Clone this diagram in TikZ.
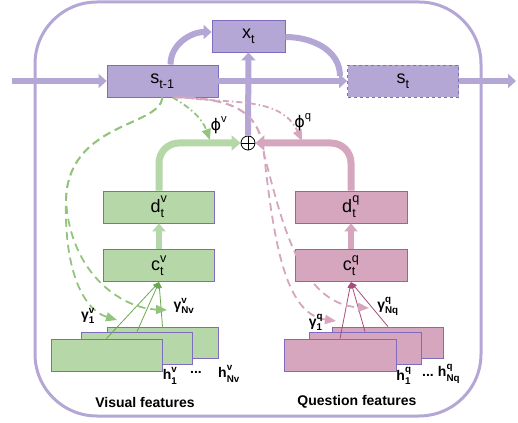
\documentclass[tikz,border=0pt]{standalone}
\usepackage{amsmath}
\usepackage{fontspec}
\setmainfont{Liberation Sans}
\newfontfamily\phifont{DejaVu Sans}
\usepackage{tikz}
\usetikzlibrary{arrows.meta, positioning, calc}
\definecolor{lavfill}{HTML}{B4A7D6}
\definecolor{boxline}{HTML}{7F6BBF}
\definecolor{greenfill}{HTML}{B6D7A8}
\definecolor{greendash}{HTML}{93C47D}
\definecolor{greenthin}{HTML}{6AA84F}
\definecolor{pinkfill}{HTML}{D5A6BD}
\definecolor{pinkthin}{HTML}{A64D79}
\newcommand{\lbl}[3]{$\text{#1}_{\text{\raisebox{-1pt}{#2}}}^{\text{\raisebox{1pt}{#3}}}$}

\begin{document}
\begin{tikzpicture}[x=1pt, y=1pt,
    box/.style={draw=boxline, line width=0.8pt, minimum width=111pt, minimum height=32pt, inner sep=0pt, font=\fontsize{18}{20}\selectfont},
    lavbox/.style={box, fill=lavfill},
    greenbox/.style={box, fill=greenfill},
    pinkbox/.style={box, fill=pinkfill},
    flabel/.style={font=\bfseries\fontsize{14}{16}\selectfont, inner sep=1pt},
    thickarrow/.style={-{Triangle[length=8pt, width=14pt]}, line width=6pt, lavfill},
    garrow/.style={-{Triangle[length=9pt, width=15pt]}, line width=7pt, greenfill},
    parrow/.style={-{Triangle[length=9pt, width=15pt]}, line width=7pt, pinkfill},
    gdashed/.style={-{Triangle[length=11pt, width=9pt]}, line width=1.8pt, greendash, dash pattern=on 8pt off 5pt},
    pdashed/.style={-{Triangle[length=11pt, width=9pt]}, line width=1.8pt, pinkfill, dash pattern=on 8pt off 5pt},
    gdashdot/.style={gdashed, dash pattern=on 6pt off 3pt on 1.5pt off 3pt},
    pdashdot/.style={pdashed, dash pattern=on 6pt off 3pt on 1.5pt off 3pt},
    gthin/.style={-{Triangle[length=6pt, width=5pt]}, line width=0.8pt, greenthin},
    pthin/.style={-{Triangle[length=6pt, width=5pt]}, line width=0.8pt, pinkthin},
    plus/.style={circle, draw, fill=white, line width=0.8pt, minimum size=14pt, inner sep=0pt,
        path picture={\draw[line width=0.8pt] (path picture bounding box.north) -- (path picture bounding box.south)
            (path picture bounding box.west) -- (path picture bounding box.east);}}
]
\useasboundingbox (0,0) rectangle (518,422);

% Frame
\draw[lavfill, line width=3pt, rounded corners=62pt] (35,6) rectangle (481,420);

% Recurrent states
\node[lavbox] (sprev) at (162.5,341) {\lbl{s}{t-1}{}};
\node[lavbox, minimum width=73pt] (xt) at (248.5,386) {\lbl{x}{t}{}};
\node[lavbox, dashed] (snext) at (403,341) {\lbl{s}{t}{}};
\coordinate (in) at (12,341);
\coordinate (out) at (516,341);
\coordinate (merge) at (340,346);

\draw[thickarrow] (in) -- (sprev.west);
\draw[thickarrow] (sprev.east) -- (snext.west);
\draw[thickarrow] (snext.east) -- (out);
\draw[thickarrow] ([xshift=8pt]sprev.north) to[out=90, in=180] ([yshift=4pt]xt.west);
\draw[line width=6pt, lavfill] ([yshift=-1pt]xt.east) to[out=0, in=90] (merge);

% Fusion
\node[plus] (plus) at (248,279) {};
\draw[thickarrow] (plus.north) -- (xt.south);

% Visual branch
\node[greenbox] (dv) at (159,215) {\lbl{d}{t}{v}};
\node[greenbox, below=26pt of dv] (cv) {\lbl{c}{t}{v}};
\draw[garrow, line width=6pt, -{Triangle[length=8pt, width=13pt]}] (cv.north) -- (dv.south);
\draw[garrow, rounded corners=20pt] (dv.north) |- (plus.west);

\node[greenbox, minimum height=31pt] (hvn) at (162.5,79.5) {};
\node[greenbox] (hv2) at (137,74) {};
\node[greenbox] (hv1) at (106.5,67) {};
\draw[gthin] (hv1.north) -- (cv.south);
\draw[gthin] (hv2.north) -- (cv.south);
\draw[gthin] (hvn.north) -- (cv.south);

% Question branch
\node[pinkbox, minimum width=112pt] (dq) at (351,215) {\lbl{d}{t}{q}};
\node[pinkbox, minimum width=112pt, below=26pt of dq] (cq) {\lbl{c}{t}{q}};
\draw[parrow, line width=6pt, -{Triangle[length=8pt, width=13pt]}] (cq.north) -- (dq.south);
\draw[parrow, rounded corners=20pt] (dq.north) |- (plus.east);

\node[pinkbox, minimum height=31pt] (hqn) at (388,79.5) {};
\node[pinkbox, minimum width=112pt] (hq2) at (365,74) {};
\node[pinkbox, minimum width=112pt] (hq1) at (340,67) {};
\draw[pthin] (hq1.north) -- (cq.south);
\draw[pthin] (hq2.north) -- (cq.south);
\draw[pthin] (hqn.north) -- (cq.south);

% Attention from s_{t-1}
\coordinate (gv) at (66,222);
\coordinate (pq) at (264,268);
\coordinate (g1tip) at (117,102);
\coordinate (gntip) at (167,112);
\coordinate (q1tip) at (336,101);
\coordinate (qntip) at (369,114);
\draw[gdashed] (sprev.south) .. controls (160,295) and (68,300) .. (gv) .. controls (64,150) and (84,112) .. (g1tip);
\draw[gdashed] (sprev.south) .. controls (160,295) and (68,300) .. (gv) .. controls (70,150) and (120,114) .. (gntip);
\draw[gdashdot] ([xshift=10pt]sprev.south) to[out=-30, in=110] (210,282);
\draw[pdashed] ([xshift=12pt]sprev.south) .. controls (235,324) and (260,310) .. (pq) .. controls (274,180) and (285,108) .. (q1tip);
\draw[pdashed] ([xshift=12pt]sprev.south) .. controls (235,324) and (260,310) .. (pq) .. controls (282,200) and (300,118) .. (qntip);
\draw[pdashdot] ([xshift=20pt]sprev.south) to[out=-8, in=115] (302,281);

% Labels
\node[font=\fontsize{16}{18}\selectfont] (phiv) at (219,297) {$\text{\phifont ϕ}^{\text{v}}$};
\node[font=\fontsize{16}{18}\selectfont] (phiq) at (303,300) {$\text{\phifont ϕ}^{\text{q}}$};
\node[flabel] (g1v) at (88,106) {\lbl{γ}{1}{v}};
\node[flabel] (gnv) at (184,116) {\lbl{γ}{Nv}{v}};
\node[flabel] (h1v) at (170,46) {\lbl{h}{1}{v}};
\node[flabel] (dotsv) at (196,50) {...};
\node[flabel] (hnv) at (229,48) {\lbl{h}{Nv}{v}};
\node[flabel] (g1q) at (316,100) {\lbl{γ}{1}{q}};
\node[flabel] (gnq) at (388,116) {\lbl{γ}{Nq}{q}};
\node[flabel] (h1q) at (404,46) {\lbl{h}{1}{q}};
\node[flabel] (dotsq) at (428,47) {...};
\node[flabel] (hnq) at (449,48) {\lbl{h}{Nq}{q}};
\node[flabel] (vislbl) at (145,20) {Visual features};
\node[flabel] (queslbl) at (357,20) {Question features};
\end{tikzpicture}
\end{document}
